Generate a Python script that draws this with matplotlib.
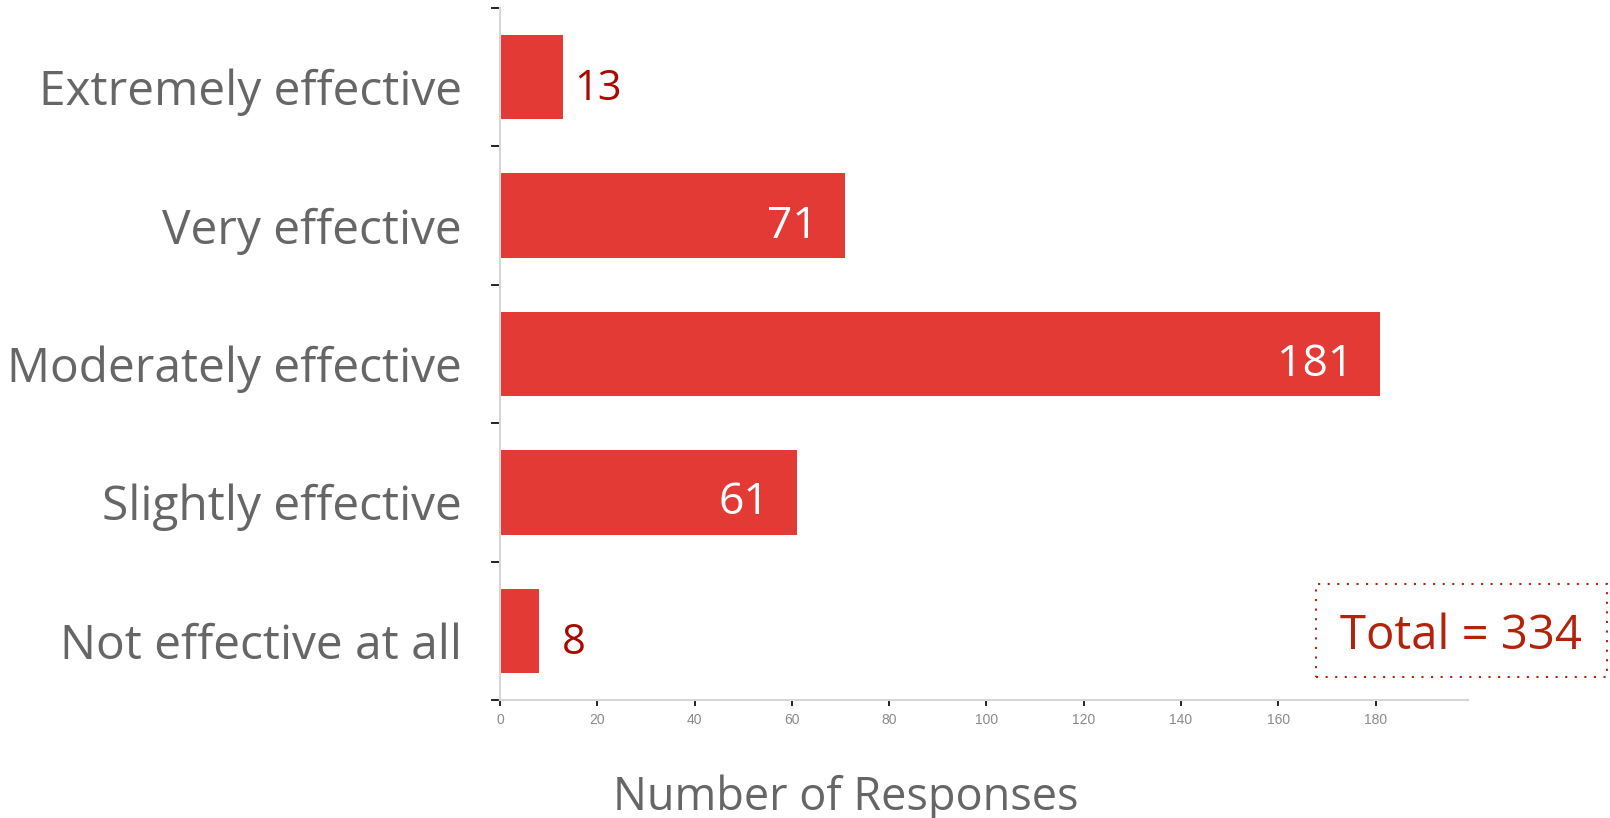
import matplotlib.pyplot as plt
from matplotlib.patches import Rectangle
from matplotlib.ticker import FixedLocator
from matplotlib.transforms import ScaledTranslation

categories = [
    "Extremely effective",
    "Very effective",
    "Moderately effective",
    "Slightly effective",
    "Not effective at all",
]
responses = [13, 71, 181, 61, 8]
x_ticks = [0, 20, 40, 60, 80, 100, 120, 140, 160, 180]
total_label = "Total = 334"

BAR_COLOR = "#e43a36"
LABEL_GREY = "#666666"
DARK_RED = "#a80a00"
TOTAL_RED = "#b3230a"

plt.rcParams["font.family"] = ["Open Sans", "DejaVu Sans"]

W, H = 1610, 818
fig = plt.figure(figsize=(W / 100, H / 100), dpi=100)
# axes box in pixels: x 500..1468, y 8..700 (from top)
ax = fig.add_axes([500 / W, 1 - 700 / H, 968 / W, 692 / H])

y_pos = list(range(len(categories)))
bars = ax.barh(y_pos, responses, height=0.61, color=BAR_COLOR)

ax.set_xlim(0, 199)
ax.set_ylim(len(categories) - 0.5, -0.5)


def px(dx, dy):
    return ScaledTranslation(dx / 100, dy / 100, fig.dpi_scale_trans)


# value labels: short bars get dark red text outside, long bars white inside
for bar, val in zip(bars, responses):
    y = bar.get_y() + bar.get_height() / 2
    if val < 40:
        ax.text(val, y, str(val), ha="center", va="baseline", fontsize=30,
                color=DARK_RED, transform=ax.transData + px(35, -23))
    else:
        ax.text(val, y, str(val), ha="right", va="baseline", fontsize=32,
                color="white", transform=ax.transData + px(-27, -22))

# category labels drawn as text so they can sit a bit below the bar centre
ax.set_yticks(y_pos)
ax.set_yticklabels([])
for y, name in zip(y_pos, categories):
    ax.text(0, y, name, ha="right", va="baseline", fontsize=34.5, color=LABEL_GREY,
            transform=ax.get_yaxis_transform() + px(-38, -28))
ax.yaxis.set_minor_locator(FixedLocator([i - 0.5 for i in range(len(categories) + 1)]))
ax.tick_params(axis="y", which="major", length=0)
ax.tick_params(axis="y", which="minor", length=6.5, width=1.2, color="black")

ax.set_xticks(x_ticks)
ax.tick_params(axis="x", which="major", length=4.5, width=1.2, color="black", pad=5)
for label in ax.get_xticklabels():
    label.set_fontfamily("Liberation Sans")
    label.set_fontsize(10)
    label.set_color("#8a8a8a")

for side in ["top", "right"]:
    ax.spines[side].set_visible(False)
for side in ["left", "bottom"]:
    ax.spines[side].set_color("#d6d6d6")
    ax.spines[side].set_linewidth(1.5)

ax.set_xlabel("Number of Responses", fontsize=32.5, color=LABEL_GREY)
ax.xaxis.label.set_va("baseline")
ax.xaxis.set_label_coords((846 - 500) / 968, (700 - 810) / 692)

# dotted "Total" box
fig.patches.append(Rectangle((1316 / W, 1 - 677 / H), 291 / W, 93 / H,
                             transform=fig.transFigure, fill=False,
                             edgecolor=TOTAL_RED, linewidth=1.5,
                             linestyle=(0, (1, 3.6))))
fig.text(1460.5 / W, 1 - 649 / H, total_label, ha="center", va="baseline",
         fontsize=34, color=TOTAL_RED)

fig.savefig("out.png", dpi=100)
